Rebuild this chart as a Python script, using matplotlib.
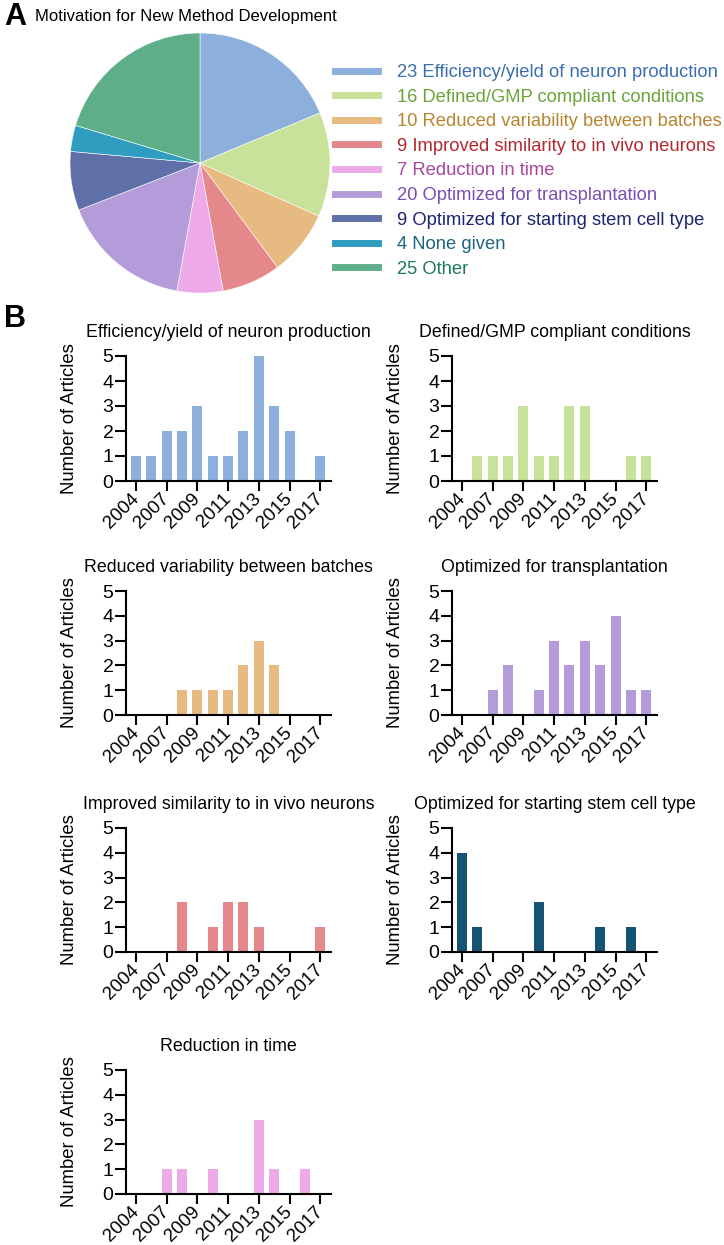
import matplotlib
matplotlib.use('Agg')
import matplotlib.pyplot as plt
from matplotlib.lines import Line2D

plt.rcParams['font.family'] = ['Liberation Sans', 'DejaVu Sans']

# Panel A data
motives = ["Efficiency/yield of neuron production", "Defined/GMP compliant conditions",
           "Reduced variability between batches", "Improved similarity to in vivo neurons",
           "Reduction in time", "Optimized for transplantation",
           "Optimized for starting stem cell type", "None given", "Other"]
motive_counts = [23, 16, 10, 9, 7, 20, 9, 4, 25]
pie_colors = ['#8CAFDB', '#C8E299', '#E6BA81', '#E5888B', '#EEA9E9',
              '#B39CD9', '#5F70A9', '#2F9DC0', '#5EAE8A']
text_colors = ['#3D6EAF', '#6AA53A', '#B58530', '#B3282D', '#A8459F',
               '#7A4FB3', '#1B2573', '#1D6480', '#1E7A55']

# Panel B data
years = ['2004', '2006', '2007', '2008', '2009', '2010', '2011',
         '2012', '2013', '2014', '2015', '2016', '2017']
tick_years = ['2004', '2007', '2009', '2011', '2013', '2015', '2017']
eff = [1, 1, 2, 2, 3, 1, 1, 2, 5, 3, 2, 0, 1]
defined = [0, 1, 1, 1, 3, 1, 1, 3, 3, 0, 0, 1, 1]
reduced = [0, 0, 0, 1, 1, 1, 1, 2, 3, 2, 0, 0, 0]
transplant = [0, 0, 1, 2, 0, 1, 3, 2, 3, 2, 4, 1, 1]
improved = [0, 0, 0, 2, 0, 1, 2, 2, 1, 0, 0, 0, 1]
stem = [4, 1, 0, 0, 0, 2, 0, 0, 0, 1, 0, 1, 0]
reduction = [0, 0, 1, 1, 0, 1, 0, 0, 3, 1, 0, 1, 0]

W, H = 724, 1245
fig = plt.figure(figsize=(W / 100, H / 100), dpi=100)

def px_axes(x0, y0, x1, y1):
    return fig.add_axes([x0 / W, 1 - y1 / H, (x1 - x0) / W, (y1 - y0) / H])

# ---- A: pie ----
fig.text(4 / W, 1 - 17 / H, 'A', fontsize=22, weight='bold', va='center')
fig.text(35 / W, 1 - 17 / H, 'Motivation for New Method Development', fontsize=12, va='center')

ax = px_axes(70, 33, 330, 293)
ax.pie(motive_counts, colors=pie_colors, startangle=90, counterclock=False,
       wedgeprops=dict(edgecolor='white', linewidth=0.4))
ax.set_xlim(-1, 1)
ax.set_ylim(-1, 1)
ax.set_aspect('auto')

handles = [Line2D([0], [0], color=c, lw=5) for c in pie_colors]
leg_labels = [f"{n} {m}" for n, m in zip(motive_counts, motives)]
leg = fig.legend(handles, leg_labels, loc='upper left', bbox_to_anchor=(335 / W, 1 - 64 / H),
                 frameon=False, fontsize=13.2, handlelength=2.35, handletextpad=1.04,
                 labelspacing=0.415, borderpad=0, borderaxespad=0)
for t, c in zip(leg.get_texts(), text_colors):
    t.set_color(c)

# ---- B: bar panels ----
fig.text(4 / W, 1 - 319 / H, 'B', fontsize=22, weight='bold', va='center')

panels = [
    ("Efficiency/yield of neuron production", eff, '#8CAFDB', 0, 0),
    ("Defined/GMP compliant conditions", defined, '#C8E299', 1, 0),
    ("Reduced variability between batches", reduced, '#E6BA81', 0, 1),
    ("Optimized for transplantation", transplant, '#B39CD9', 1, 1),
    ("Improved similarity to in vivo neurons", improved, '#E5888B', 0, 2),
    ("Optimized for starting stem cell type", stem, '#145372', 1, 2),
    ("Reduction in time", reduction, '#EEA9E9', 0, 3),
]
col_x = [(126, 331), (452, 657)]
row_y = [(356, 481), (591, 715), (828, 952), (1070, 1194)]

for title, vals, color, col, row in panels:
    x0, x1 = col_x[col]
    y0, y1 = row_y[row]
    ax = px_axes(x0, y0, x1, y1)
    pos = list(range(len(years)))
    ax.bar(pos, vals, width=0.65, color=color)
    ax.set_xlim(-0.65, 12.7)
    ax.set_ylim(0, 5)
    ax.set_yticks([0, 1, 2, 3, 4, 5])
    ax.set_xticks([years.index(y) for y in tick_years])
    ax.set_xticklabels(tick_years, rotation=45, ha='right', va='center', rotation_mode='anchor')
    ax.tick_params(axis='x', length=7, width=1.5, labelsize=13.5, pad=4)
    ax.tick_params(axis='y', length=8, width=1.5, labelsize=14, pad=1)
    for s in ['top', 'right']:
        ax.spines[s].set_visible(False)
    for s in ['left', 'bottom']:
        ax.spines[s].set_linewidth(1.5)
    ax.set_title(title, fontsize=12.8, pad=13.5)
    ax.set_ylabel('Number of Articles', fontsize=13.3)
    ax.yaxis.set_label_coords(-0.235, 0.5)

fig.savefig('out.png', dpi=100)
